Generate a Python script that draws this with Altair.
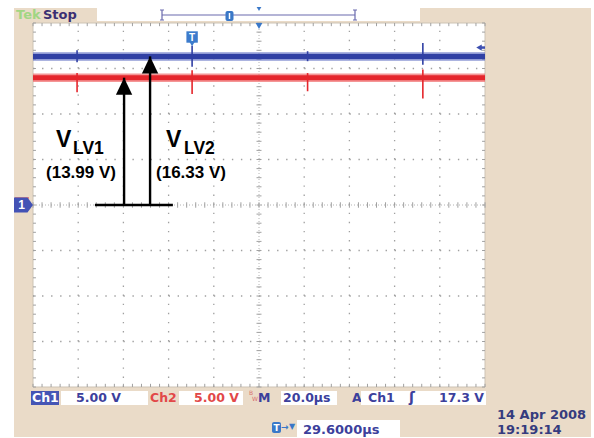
import altair as alt
import pandas as pd
import numpy as np

# ---------------- data ----------------
time_domain = [0, 200]          # 10 divisions x 20.0 us
volt_domain = [-20, 20]         # 8 divisions x 5.00 V
trace_t = [0, 200]
ch1_level = [16.33, 16.33]      # V_LV2
ch2_level = [13.99, 13.99]      # V_LV1
spike_t = [19.5, 70.4, 121.5, 172.5]
ch1_spike_hi = [17.0, 17.5, 16.9, 17.8]
ch1_spike_lo = [15.7, 15.2, 15.8, 15.4]
ch2_spike_hi = [14.5, 14.8, 14.5, 14.9]
ch2_spike_lo = [12.4, 12.2, 12.5, 11.7]
trigger_t = [70.4]
trigger_level = [17.3]
arrow_t = [40.3, 51.8]
arrow_v = [13.99, 16.33]
base_t = [27.4, 61.9]
arrow_names = ["LV1", "LV2"]
arrow_texts = ["(13.99 V)", "(16.33 V)"]

# ---------------- layout ----------------
OX, OY = 33, 23        # plot origin in the picture
W, H = 452, 364
XS = alt.Scale(domain=time_domain, nice=False, zero=False)
YS = alt.Scale(domain=volt_domain, nice=False, zero=False)
BEIGE = "#eadbc8"
BLUE_T = "#3c409c"
RED_T = "#e24848"

layers = []

def rect(x0, x1, y0, y1, fill, stroke=None, sw=1.0, cr=0):
    kw = dict(fill=fill, cornerRadius=cr)
    if stroke:
        kw.update(stroke=stroke, strokeWidth=sw)
    else:
        kw.update(strokeWidth=0)
    return alt.Chart(pd.DataFrame({"k": [0]})).mark_rect(**kw).encode(
        x=alt.value(x0 - OX), x2=alt.value(x1 - OX),
        y=alt.value(y0 - OY), y2=alt.value(y1 - OY))

def text(s, x, y, color, size, weight="normal", align="left",
         baseline="middle", font="DejaVu Sans"):
    return alt.Chart(pd.DataFrame({"s": [s]})).mark_text(
        color=color, fontSize=size, fontWeight=weight, align=align,
        baseline=baseline, font=font).encode(
        x=alt.value(x - OX), y=alt.value(y - OY), text="s:N")

def hline(x0, x1, y, color, sw=1.0):
    return alt.Chart(pd.DataFrame({"k": [0]})).mark_rule(
        color=color, strokeWidth=sw).encode(
        x=alt.value(x0 - OX), x2=alt.value(x1 - OX), y=alt.value(y - OY))

def vline(x, y0, y1, color, sw=1.0):
    return alt.Chart(pd.DataFrame({"k": [0]})).mark_rule(
        color=color, strokeWidth=sw).encode(
        x=alt.value(x - OX), y=alt.value(y0 - OY), y2=alt.value(y1 - OY))

def segs(df, color, sw=1.0, dash=None):
    kw = dict(color=color, strokeWidth=sw)
    if dash:
        kw["strokeDash"] = dash
    return alt.Chart(df).mark_rule(**kw).encode(
        x=alt.X("t0:Q", scale=XS, axis=None), x2="t1:Q",
        y=alt.Y("v0:Q", scale=YS, axis=None), y2="v1:Q")

# background frame
layers.append(rect(14, 591, 8, 437, BEIGE))
layers.append(rect(97, 420, 8, 21, "white"))
layers.append(rect(33, 485, 23, 387, "white", stroke="#cdc3b4", sw=1))

# ---- graticule ----
div_t = [t for t in range(20, 200, 20) if t != 100]
div_v = [v for v in range(-15, 20, 5) if v != 0]
layers.append(segs(pd.DataFrame({"t0": div_t, "t1": div_t, "v0": -20, "v1": 20}),
                   "#a0a0a0", 1.3, [1.4, 7.7]))
layers.append(segs(pd.DataFrame({"t0": 0, "t1": 200, "v0": div_v, "v1": div_v}),
                   "#a0a0a0", 1.3, [1.4, 7.64]))
layers.append(segs(pd.DataFrame({"t0": [100], "t1": [100], "v0": [-20], "v1": [20]}),
                   "#b4b4b4", 1, [1, 2]))
layers.append(segs(pd.DataFrame({"t0": [0], "t1": [200], "v0": [0], "v1": [0]}),
                   "#b4b4b4", 1, [1, 2]))
minor_t = np.round(np.arange(0, 200.01, 4), 3)
minor_v = np.round(np.arange(-20, 20.01, 1), 3)
tick_frames = [
    pd.DataFrame({"t0": minor_t, "t1": minor_t, "v0": -0.3, "v1": 0.3}),
    pd.DataFrame({"t0": minor_t, "t1": minor_t, "v0": 19.65, "v1": 20.0}),
    pd.DataFrame({"t0": minor_t, "t1": minor_t, "v0": -20.0, "v1": -19.65}),
    pd.DataFrame({"t0": 98.9, "t1": 101.1, "v0": minor_v, "v1": minor_v}),
    pd.DataFrame({"t0": 0.0, "t1": 1.3, "v0": minor_v, "v1": minor_v}),
    pd.DataFrame({"t0": 198.7, "t1": 200.0, "v0": minor_v, "v1": minor_v}),
]
for df in tick_frames:
    layers.append(segs(df, "#a0a0a0", 1))

# ---- traces ----
def trace(levels, halo, core, hi, lo):
    df = pd.DataFrame({"t": trace_t, "v": levels})
    sp = pd.DataFrame({"t": spike_t, "hi": hi, "lo": lo})
    enc = dict(x=alt.X("t:Q", scale=XS, axis=None), y=alt.Y("v:Q", scale=YS, axis=None))
    return [
        alt.Chart(df).mark_line(color=halo, strokeWidth=8.5, opacity=0.7).encode(**enc),
        alt.Chart(df).mark_line(color=core, strokeWidth=5).encode(**enc),
        alt.Chart(sp).mark_rule(color=core, strokeWidth=1.6).encode(
            x=alt.X("t:Q", scale=XS, axis=None),
            y=alt.Y("hi:Q", scale=YS, axis=None), y2="lo:Q"),
    ]

layers += trace(ch2_level, "#f06a6a", "#e5262c", ch2_spike_hi, ch2_spike_lo)
layers += trace(ch1_level, "#6270c4", "#3040a4", ch1_spike_hi, ch1_spike_lo)

# ---- scope markers ----
trig = pd.DataFrame({"t": trigger_t, "s": ["T"]})
layers.append(alt.Chart(trig).mark_point(
    shape="square", filled=True, size=130, color="#3c7bcc", opacity=1).encode(
    x=alt.X("t:Q", scale=XS, axis=None), y=alt.value(14)))
layers.append(alt.Chart(trig).mark_point(
    shape="triangle-down", filled=True, size=30, color="#3c7bcc", opacity=1).encode(
    x=alt.X("t:Q", scale=XS, axis=None), y=alt.value(21)))
layers.append(alt.Chart(trig).mark_text(
    color="white", fontSize=10, fontWeight="bold", baseline="middle").encode(
    x=alt.X("t:Q", scale=XS, axis=None), y=alt.value(14.5), text="s:N"))
centre = pd.DataFrame({"t": [100]})
layers.append(alt.Chart(centre).mark_point(
    shape="triangle-down", filled=True, size=45, color="#3a78c8", opacity=1).encode(
    x=alt.X("t:Q", scale=XS, axis=None), y=alt.value(3)))
lvl = pd.DataFrame({"v": trigger_level})
layers.append(alt.Chart(lvl).mark_point(
    shape="triangle-left", filled=True, size=40, color="#3d4fb0", opacity=1).encode(
    x=alt.value(446), y=alt.Y("v:Q", scale=YS, axis=None)))
layers.append(alt.Chart(lvl).mark_rule(color="#3d4fb0", strokeWidth=2.5).encode(
    x=alt.value(447), x2=alt.value(452), y=alt.Y("v:Q", scale=YS, axis=None)))
gnd = pd.DataFrame({"v": [0], "s": ["1"]})
layers.append(hline(15, 29, 198, "#e05050", 1.2))
layers.append(alt.Chart(gnd).mark_point(
    shape="M-1,-0.78 L0.42,-0.78 L1,0 L0.42,0.78 L-1,0.78 Z",
    filled=True, size=361, color="#4352b5", opacity=1).encode(
    x=alt.value(-9.5), y=alt.Y("v:Q", scale=YS, axis=None)))
layers.append(alt.Chart(gnd).mark_text(
    color="white", fontSize=12, fontWeight="bold", baseline="middle").encode(
    x=alt.value(-11.5), y=alt.Y("v:Q", scale=YS, axis=None), text="s:N"))

# ---- annotation arrows ----
arr = pd.DataFrame({"t": arrow_t, "v": arrow_v, "z": [0.0, 0.0]})
layers.append(alt.Chart(arr).mark_rule(color="black", strokeWidth=2.4).encode(
    x=alt.X("t:Q", scale=XS, axis=None),
    y=alt.Y("z:Q", scale=YS, axis=None), y2="v:Q"))
layers.append(alt.Chart(arr).mark_point(
    shape="M0,0 L-0.48,1 L0.48,1 Z", filled=True, size=1156,
    color="black", opacity=1).encode(
    x=alt.X("t:Q", scale=XS, axis=None), y=alt.Y("v:Q", scale=YS, axis=None)))
layers.append(segs(pd.DataFrame({"t0": [base_t[0]], "t1": [base_t[1]], "v0": [0.0], "v1": [0.0]}),
                   "black", 2.4))
for vx, subx, cx, name, val in [(56, 73, 81, arrow_names[0], arrow_texts[0]),
                                (166, 184, 191, arrow_names[1], arrow_texts[1])]:
    layers.append(text("V", vx, 147, "black", 23, "bold", baseline="alphabetic",
                       font="Liberation Sans"))
    layers.append(text(name, subx, 154, "black", 17.5, "bold", baseline="alphabetic",
                       font="Liberation Sans"))
    layers.append(text(val, cx, 178, "black", 17, "bold", align="center",
                       baseline="alphabetic", font="Liberation Sans"))

# ---- header ----
layers.append(text("Tek", 16, 15, "#a2d683", 13, "bold"))
layers.append(text("Stop", 43, 15, "#3b2f73", 13, "bold"))
layers.append(hline(162, 355, 15, "#6a6aae", 1.2))
layers.append(vline(162, 10, 20, "#6a6aae", 1.2))
layers.append(vline(355, 10, 20, "#6a6aae", 1.2))
layers.append(hline(160, 164, 10, "#6a6aae", 1))
layers.append(hline(160, 164, 20, "#6a6aae", 1))
layers.append(hline(353, 357, 10, "#6a6aae", 1))
layers.append(hline(353, 357, 20, "#6a6aae", 1))
layers.append(rect(225.5, 233.5, 11, 21, "#3a78c8", cr=2))
layers.append(vline(229.5, 13, 19, "white", 1.5))
layers.append(alt.Chart(centre).mark_point(
    shape="triangle-down", filled=True, size=22, color="#3a78c8", opacity=1).encode(
    x=alt.X("t:Q", scale=XS, axis=None), y=alt.value(-14)))

# ---- status bar ----
FS = 12.5
layers.append(rect(31, 59, 391, 405, "#4555b5"))
layers.append(text("Ch1", 32, 398, "white", FS, "bold"))
layers.append(rect(61, 148, 391, 405, "white"))
layers.append(text("5.00 V", 76, 398, BLUE_T, FS, "bold"))
layers.append(text("Ch2", 150, 398, RED_T, FS, "bold"))
layers.append(rect(179, 243, 391, 405, "white"))
layers.append(text("5.00 V", 194, 398, RED_T, FS, "bold"))
layers.append(text("B", 249, 393, "#d87070", 6))
layers.append(text("W", 252, 399, "#d87070", 6))
layers.append(text("M", 258, 398, BLUE_T, FS, "bold"))
layers.append(rect(281, 337, 391, 405, "white"))
layers.append(text("20.0µs", 283, 398, BLUE_T, FS, "bold"))
layers.append(text("A", 352, 398, BLUE_T, FS, "bold"))
layers.append(rect(361, 486, 391, 405, "white"))
layers.append(text("Ch1", 368, 398, BLUE_T, FS, "bold"))
layers.append(text("ʃ", 409, 398, BLUE_T, 14, "bold"))
layers.append(text("17.3 V", 439, 398, BLUE_T, FS, "bold"))
layers.append(rect(272, 281, 422, 433, "#3a78c8", cr=2))
layers.append(text("T", 276.5, 428, "white", 9, "bold", align="center"))
layers.append(text("→", 281, 427, "#3a78c8", 9, "bold"))
layers.append(text("▼", 289, 427, "#3a78c8", 8))
layers.append(rect(297, 400, 420, 437, "white"))
layers.append(text("29.6000µs", 303, 430, BLUE_T, 13, "bold"))
layers.append(text("14 Apr 2008", 497, 415, "#353b7e", 13, "bold"))
layers.append(text("19:19:14", 497, 429.5, "#353b7e", 13, "bold"))

chart = alt.layer(*layers).properties(
    width=W, height=H,
    padding={"left": OX, "top": OY, "right": 594 - OX - W, "bottom": 438 - OY - H},
    autosize=alt.AutoSizeParams(type="none"),
    background="white",
).configure_view(strokeWidth=0)

chart.save("out.html", embed_options={"renderer": "svg", "actions": False})
